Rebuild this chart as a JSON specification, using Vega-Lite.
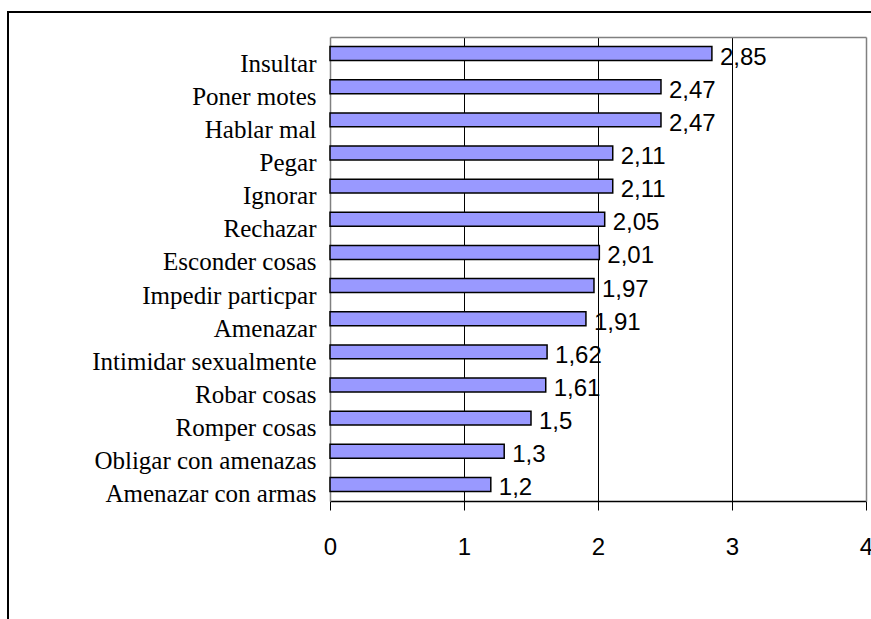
{
  "$schema": "https://vega.github.io/schema/vega-lite/v6.json",
  "autosize": "none",
  "padding": {"left": 8, "top": 12, "right": 0, "bottom": 0},
  "width": 880,
  "height": 620,
  "background": "white",
  "config": {
    "view": {"stroke": "black", "strokeWidth": 2, "fill": "white"},
    "locale": {"number": {"decimal": ",", "thousands": ".", "grouping": [3], "currency": ["", " €"]}}
  },
  "data": {
    "values": [
      {"conducta": "Insultar", "media": 2.85},
      {"conducta": "Poner motes", "media": 2.47},
      {"conducta": "Hablar mal", "media": 2.47},
      {"conducta": "Pegar", "media": 2.11},
      {"conducta": "Ignorar", "media": 2.11},
      {"conducta": "Rechazar", "media": 2.05},
      {"conducta": "Esconder cosas", "media": 2.01},
      {"conducta": "Impedir particpar", "media": 1.97},
      {"conducta": "Amenazar", "media": 1.91},
      {"conducta": "Intimidar sexualmente", "media": 1.62},
      {"conducta": "Robar cosas", "media": 1.61},
      {"conducta": "Romper cosas", "media": 1.5},
      {"conducta": "Obligar con amenazas", "media": 1.3},
      {"conducta": "Amenazar con armas", "media": 1.2}
    ]
  },
  "encoding": {
    "y": {
      "field": "conducta",
      "type": "nominal",
      "sort": null,
      "scale": {"range": [25, 489], "paddingInner": 0.58, "paddingOuter": 0.29}
    },
    "x": {
      "field": "media",
      "type": "quantitative",
      "scale": {"domain": [0, 4], "range": [322, 858], "nice": false, "zero": true}
    }
  },
  "layer": [
    {
      "mark": {"type": "bar", "fill": "#9999FF", "stroke": "black", "strokeWidth": 1.5},
      "encoding": {
        "y": {
          "field": "conducta",
          "type": "nominal",
          "sort": null,
          "axis": {
            "orient": "left",
            "offset": -322,
            "title": null,
            "ticks": false,
            "domainColor": "#808080",
            "domainWidth": 1.5,
            "labelFont": "Liberation Serif",
            "labelFontSize": 25,
            "labelColor": "black",
            "labelPadding": 14,
            "labelOffset": 10,
            "labelLimit": 400,
            "grid": false
          }
        },
        "x": {
          "field": "media",
          "type": "quantitative",
          "axis": {
            "orient": "bottom",
            "offset": -131,
            "title": null,
            "values": [0, 1, 2, 3, 4],
            "format": "d",
            "domainColor": "black",
            "domainWidth": 1.5,
            "tickColor": "black",
            "tickSize": 9,
            "tickWidth": 1,
            "labelFont": "Liberation Sans",
            "labelFontSize": 24,
            "labelColor": "black",
            "labelPadding": 25,
            "labelFlush": false,
            "labelOverlap": false,
            "grid": false
          }
        }
      }
    },
    {
      "mark": {"type": "text", "align": "left", "baseline": "middle", "dx": 8, "dy": 4, "font": "Liberation Sans", "fontSize": 24, "color": "black"},
      "encoding": {
        "text": {"field": "media", "type": "quantitative", "format": ".3~g"},
        "y": {
          "field": "conducta",
          "type": "nominal",
          "sort": null,
          "axis": {
            "orient": "right",
            "offset": -22,
            "title": null,
            "ticks": false,
            "labels": false,
            "grid": false,
            "domainColor": "#808080",
            "domainWidth": 1.5
          }
        },
        "x": {
          "field": "media",
          "type": "quantitative",
          "axis": {
            "orient": "top",
            "offset": -25,
            "title": null,
            "values": [1, 2, 3],
            "ticks": false,
            "labels": false,
            "grid": true,
            "gridColor": "black",
            "gridWidth": 1,
            "gridOpacity": 1,
            "domainColor": "#808080",
            "domainWidth": 1.5
          }
        }
      }
    }
  ],
  "resolve": {"axis": {"x": "independent", "y": "independent"}}
}
